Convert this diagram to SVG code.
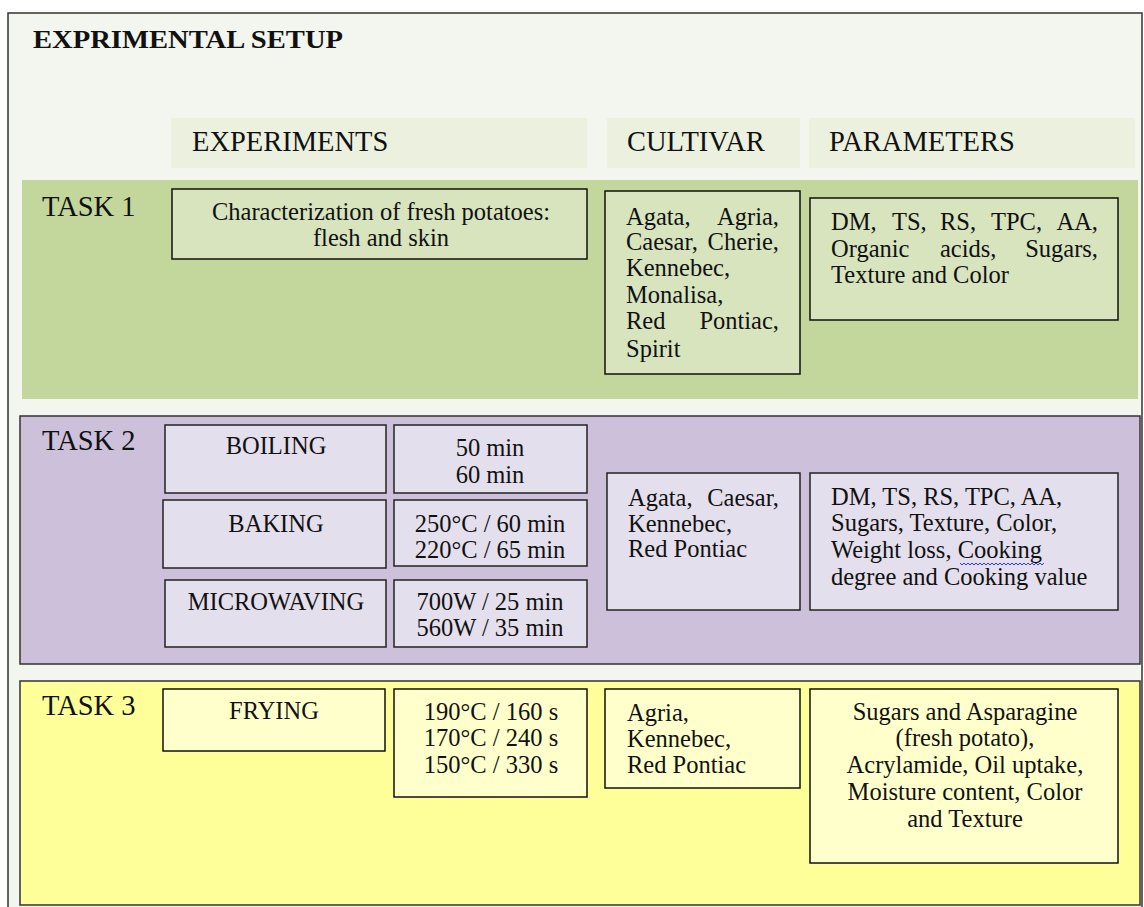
<svg xmlns="http://www.w3.org/2000/svg" width="1144" height="907" viewBox="0 0 1144 907">
<style>
text{font-family:"Liberation Serif","Times New Roman",serif;fill:#111;font-size:24.5px}
.c{text-anchor:middle}
.e{text-anchor:end}
.hd{font-size:28.5px}
.task{font-size:28.5px}
.b1{fill:#d7e4bd;stroke:#111;stroke-width:1.5}
.b2{fill:#e4dfec;stroke:#222;stroke-width:1.5}
.b3{fill:#ffffcc;stroke:#111;stroke-width:1.5}
.hbox{fill:#ebf1de}
</style>
<rect width="1144" height="907" fill="#ffffff"/>
<g id="frame">
<rect x="8" y="13" width="1134" height="900" fill="#f3f6ee" stroke="#333" stroke-width="1.5"/>
<text x="33" y="48" style="font-size:25px;font-weight:bold" textLength="310" lengthAdjust="spacingAndGlyphs">EXPRIMENTAL SETUP</text>
</g>
<g id="headers">
<rect class="hbox" x="171" y="118" width="416" height="50"/>
<text class="hd" x="192" y="151">EXPERIMENTS</text>
<rect class="hbox" x="607" y="118" width="193" height="50"/>
<text class="hd" x="627" y="151">CULTIVAR</text>
<rect class="hbox" x="809" y="118" width="326" height="50"/>
<text class="hd" x="829" y="151">PARAMETERS</text>
</g>
<g id="task1">
<rect x="22" y="180" width="1116" height="219" fill="#c3d69b"/>
<text class="task" x="42" y="216">TASK 1</text>
<g id="t1-exp">
<rect class="b1" x="172" y="189" width="415" height="70"/>
<text class="c" x="381" y="220">Characterization of fresh potatoes:</text>
<text class="c" x="381" y="246">flesh and skin</text>
</g>
<g id="t1-cult">
<rect class="b1" x="605" y="191" width="195" height="183"/>
<text x="626" y="225">Agata,</text><text class="e" x="779" y="225">Agria,</text>
<text x="626" y="250">Caesar,</text><text class="e" x="779" y="250">Cherie,</text>
<text x="626" y="276">Kennebec,</text>
<text x="626" y="303">Monalisa,</text>
<text x="626" y="329">Red</text><text class="e" x="779" y="329">Pontiac,</text>
<text x="626" y="357">Spirit</text>
</g>
<g id="t1-par">
<rect class="b1" x="810" y="198" width="308" height="122"/>
<text x="831" y="230">DM,</text><text x="892" y="230">TS,</text><text x="940" y="230">RS,</text><text x="991" y="230">TPC,</text><text class="e" x="1098" y="230">AA,</text>
<text x="831" y="257">Organic</text><text x="940" y="257">acids,</text><text class="e" x="1098" y="257">Sugars,</text>
<text x="831" y="283">Texture and Color</text>
</g>
</g>
<g id="task2">
<rect x="20" y="416" width="1120" height="248" fill="#ccc0da" stroke="#333" stroke-width="1.5"/>
<text class="task" x="42" y="450">TASK 2</text>
<g id="t2-boil">
<rect class="b2" x="165" y="425" width="221" height="68"/>
<text class="c" x="276" y="454">BOILING</text>
<rect class="b2" x="394" y="425" width="193" height="68"/>
<text class="c" x="490" y="456">50 min</text>
<text class="c" x="490" y="483">60 min</text>
</g>
<g id="t2-bake">
<rect class="b2" x="163" y="500" width="223" height="68"/>
<text class="c" x="276" y="532">BAKING</text>
<rect class="b2" x="394" y="500" width="193" height="66"/>
<text class="c" x="490" y="532">250°C / 60 min</text>
<text class="c" x="490" y="558">220°C / 65 min</text>
</g>
<g id="t2-micro">
<rect class="b2" x="165" y="580" width="221" height="67"/>
<text class="c" x="276" y="610">MICROWAVING</text>
<rect class="b2" x="394" y="580" width="193" height="67"/>
<text class="c" x="490" y="610">700W / 25 min</text>
<text class="c" x="490" y="636">560W / 35 min</text>
</g>
<g id="t2-cult">
<rect class="b2" x="607" y="473" width="193" height="137"/>
<text x="628" y="506">Agata,</text><text class="e" x="779" y="506">Caesar,</text>
<text x="628" y="532">Kennebec,</text>
<text x="628" y="557">Red Pontiac</text>
</g>
<g id="t2-par">
<rect class="b2" x="810" y="473" width="308" height="137"/>
<text x="831" y="505">DM, TS, RS, TPC, AA,</text>
<text x="831" y="531">Sugars, Texture, Color,</text>
<text x="831" y="558">Weight loss, Cooking</text>
<text x="831" y="585">degree and Cooking value</text>
<path d="M960 563 l2 2 l2 -2 l2 2 l2 -2 l2 2 l2 -2 l2 2 l2 -2 l2 2 l2 -2 l2 2 l2 -2 l2 2 l2 -2 l2 2 l2 -2 l2 2 l2 -2 l2 2 l2 -2 l2 2 l2 -2 l2 2 l2 -2 l2 2 l2 -2 l2 2 l2 -2 l2 2 l2 -2 l2 2 l2 -2 l2 2 l2 -2 l2 2 l2 -2 l2 2 l2 -2 l2 2 l2 -2 l2 2 l2 -2" fill="none" stroke="#3333ff" stroke-width="1"/>
</g>
</g>
<g id="task3">
<rect x="20" y="681" width="1120" height="224" fill="#ffff99" stroke="#333" stroke-width="1.5"/>
<text class="task" x="42" y="715">TASK 3</text>
<g id="t3-fry">
<rect class="b3" x="163" y="689" width="222" height="62"/>
<text class="c" x="274" y="719">FRYING</text>
<rect class="b3" x="394" y="689" width="193" height="108"/>
<text class="c" x="491" y="720">190°C / 160 s</text>
<text class="c" x="491" y="746">170°C / 240 s</text>
<text class="c" x="491" y="773">150°C / 330 s</text>
</g>
<g id="t3-cult">
<rect class="b3" x="605" y="689" width="195" height="99"/>
<text x="627" y="721">Agria,</text>
<text x="627" y="747">Kennebec,</text>
<text x="627" y="773">Red Pontiac</text>
</g>
<g id="t3-par">
<rect class="b3" x="810" y="689" width="308" height="174"/>
<text class="c" x="965" y="720">Sugars and Asparagine</text>
<text class="c" x="965" y="746">(fresh potato),</text>
<text class="c" x="965" y="773">Acrylamide, Oil uptake,</text>
<text class="c" x="965" y="800">Moisture content, Color</text>
<text class="c" x="965" y="827">and Texture</text>
</g>
</g>
</svg>
